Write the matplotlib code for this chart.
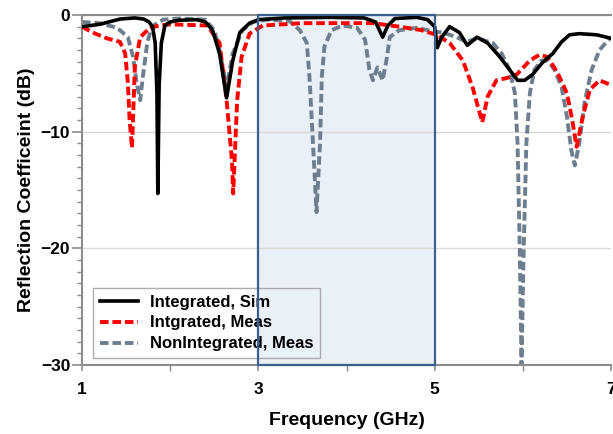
import numpy as np
import matplotlib
matplotlib.use("Agg")
import matplotlib.pyplot as plt
from matplotlib.patches import Rectangle
from matplotlib.ticker import FixedLocator, MultipleLocator

plt.rcParams['font.family'] = ['Liberation Sans', 'DejaVu Sans']
plt.rcParams['font.weight'] = 'bold'

# Integrated, Sim (solid black)
sim_f = [1.0, 1.2, 1.43, 1.6, 1.7, 1.76, 1.80, 1.83, 1.85, 1.86, 1.875, 1.90, 1.94, 2.0,
         2.1, 2.3, 2.4, 2.48, 2.56, 2.64, 2.71, 2.79, 2.90, 3.0, 3.3, 3.8, 4.2, 4.33,
         4.41, 4.47, 4.55, 4.8, 4.92, 5.0, 5.03, 5.08, 5.17, 5.28, 5.37, 5.48, 5.6,
         5.74, 5.85, 5.94, 6.02, 6.11, 6.22, 6.34, 6.44, 6.53, 6.64, 6.84, 7.0]
sim_db = [-1.0, -0.8, -0.35, -0.25, -0.35, -0.6, -1.0, -2.4, -6.7, -15.3, -6.0, -2.4, -0.9, -0.6,
          -0.45, -0.4, -0.6, -1.3, -3.3, -7.1, -3.9, -1.5, -0.7, -0.4, -0.25, -0.2, -0.25, -0.6,
          -1.9, -0.9, -0.3, -0.2, -0.4, -1.0, -2.8, -1.9, -1.0, -1.5, -2.6, -1.9, -2.4,
          -3.6, -4.7, -5.6, -5.6, -5.1, -4.1, -3.3, -2.3, -1.7, -1.6, -1.7, -2.0]

# Intgrated, Meas (red dashed)
int_f = [1.0, 1.12, 1.28, 1.43, 1.49, 1.52, 1.54, 1.567, 1.60, 1.66, 1.77, 1.88, 2.0, 2.42,
         2.56, 2.64, 2.70, 2.715, 2.76, 2.81, 2.90, 3.05, 3.5, 4.3, 4.6, 4.85, 5.02, 5.17,
         5.32, 5.43, 5.54, 5.60, 5.70, 5.82, 5.93, 6.08, 6.19, 6.28, 6.39, 6.50, 6.56,
         6.61, 6.68, 6.76, 6.87, 7.0]
int_db = [-1.0, -1.5, -2.0, -2.3, -3.3, -5.8, -9.0, -11.4, -4.4, -1.9, -1.1, -0.9, -0.8, -0.9,
          -2.4, -7.3, -12.4, -15.3, -7.3, -3.6, -1.6, -0.9, -0.7, -0.7, -1.0, -1.3, -1.7, -2.4,
          -3.9, -6.2, -9.2, -7.0, -5.6, -5.4, -5.1, -3.9, -3.4, -3.6, -4.9, -6.7, -9.0,
          -11.3, -8.7, -6.4, -5.6, -6.0]

# NonIntegrated, Meas (grey dashed)
non_f = [1.0, 1.2, 1.40, 1.52, 1.58, 1.62, 1.66, 1.69, 1.74, 1.79, 1.92, 2.1, 2.4, 2.5,
         2.56, 2.64, 2.71, 2.82, 2.94, 3.1, 3.35, 3.47, 3.55, 3.58, 3.62, 3.66, 3.70, 3.72,
         3.75, 3.83, 3.96, 4.12, 4.21, 4.26, 4.30, 4.35, 4.41, 4.46, 4.49, 4.60, 4.80,
         4.98, 5.09, 5.25, 5.36, 5.48, 5.66, 5.76, 5.85, 5.91, 5.94, 5.965, 5.985, 6.01,
         6.04, 6.08, 6.13, 6.21, 6.28, 6.36, 6.44, 6.50, 6.55, 6.59, 6.64, 6.70, 6.78,
         6.87, 6.95, 7.0]
non_db = [-0.6, -0.7, -1.1, -1.9, -3.6, -5.8, -7.3, -5.3, -2.4, -1.0, -0.4, -0.3, -0.4, -1.3,
          -3.0, -6.2, -3.3, -1.3, -0.6, -0.4, -0.5, -1.3, -2.4, -5.3, -11.0, -16.9, -11.0, -5.3,
          -2.7, -1.3, -0.9, -1.1, -2.1, -4.7, -5.6, -4.5, -5.6, -3.6, -1.9, -1.3, -1.1,
          -1.4, -1.5, -1.9, -2.3, -2.0, -2.4, -3.3, -4.7, -6.7, -11.0, -20.0, -30.0, -20.0,
          -11.0, -6.7, -4.7, -3.9, -3.9, -4.7, -6.2, -8.7, -11.6, -12.9, -11.0, -7.5, -4.7,
          -3.0, -2.3, -1.9]

x_major = [1, 3, 5, 7]
x_minor = [2, 4, 6]
y_major = [0, -10, -20, -30]
band = (3, 5)
spine_grey = '#8c8c8c'

fig = plt.figure(figsize=(6.13, 4.34), dpi=100)
ax = fig.add_axes([82 / 613, 1 - 365 / 434, 529 / 613, 350 / 434])

# shaded band (fill below curves, outline above legend)
ax.add_patch(Rectangle((band[0], -30), band[1] - band[0], 30, facecolor='#eaf0f8',
                       edgecolor='none', zorder=0.5))
ax.add_patch(Rectangle((band[0], -30), band[1] - band[0], 30, facecolor='none',
                       edgecolor='#3d5f8d', lw=1.6, zorder=6, clip_on=False))

ax.plot(non_f, non_db, color='#6f7e8f', lw=2.8, dashes=(2.2, 1.0),
        label='NonIntegrated, Meas', zorder=2)
ax.plot(int_f, int_db, color='#ff0000', lw=2.8, dashes=(2.2, 1.0),
        label='Intgrated, Meas', zorder=3)
ax.plot(sim_f, sim_db, color='black', lw=2.6, label='Integrated, Sim', zorder=4)

ax.set_xlim(1, 7)
ax.set_ylim(-30, 0)
ax.xaxis.set_major_locator(FixedLocator(x_major))
ax.xaxis.set_minor_locator(FixedLocator(x_minor))
ax.yaxis.set_major_locator(FixedLocator(y_major))
ax.yaxis.set_minor_locator(MultipleLocator(1))
ax.yaxis.grid(True, which='major', color='#d9d9d9', lw=1)
ax.set_axisbelow(True)

for side in ['left', 'bottom', 'top']:
    ax.spines[side].set_color(spine_grey)
    ax.spines[side].set_linewidth(1.5)
ax.spines['right'].set_visible(False)

ax.tick_params(axis='y', which='major', length=7, width=1.2, color=spine_grey,
               labelsize=12.5, pad=1.5)
ax.tick_params(axis='y', which='minor', length=3.5, width=1, color=spine_grey)
ax.tick_params(axis='x', which='major', length=4, width=1.2, color=spine_grey,
               labelsize=12.5, pad=8)
ax.tick_params(axis='x', which='minor', length=4, width=1, color=spine_grey)
for lab in ax.get_xticklabels() + ax.get_yticklabels():
    lab.set_fontweight('bold')

ax.set_xlabel('Frequency (GHz)', fontsize=14, fontweight='bold', labelpad=11)
ax.set_ylabel('Reflection Coefficeint (dB)', fontsize=14, fontweight='bold', labelpad=4)

handles, labels = ax.get_legend_handles_labels()
leg = ax.legend(handles[::-1], labels[::-1], loc='lower left',
                bbox_to_anchor=(0.021, 0.02), borderaxespad=0, fancybox=False,
                facecolor='none', edgecolor='#999999',
                prop={'size': 12, 'weight': 'bold'}, handlelength=2.3,
                handletextpad=0.7, labelspacing=0.35, borderpad=0.4)
leg.get_frame().set_linewidth(1)
leg.set_zorder(5)

fig.savefig('out.png', dpi=100)
